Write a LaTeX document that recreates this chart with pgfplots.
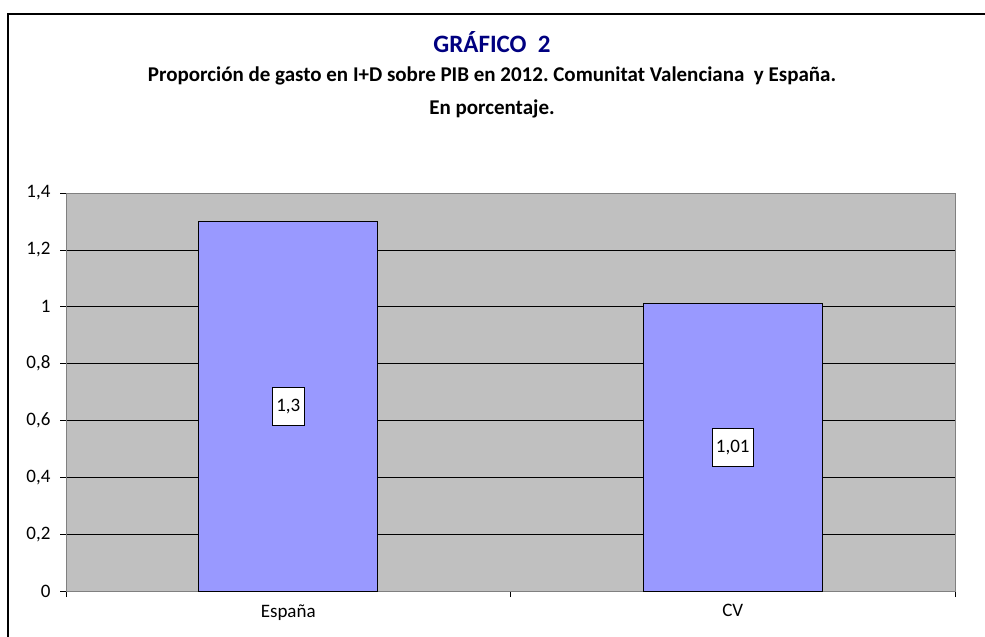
\documentclass[border=0pt]{standalone}
\usepackage{pgfplots}
\pgfplotsset{compat=1.18}
\usepackage{fontspec}
\setmainfont{Carlito}
\frenchspacing
\definecolor{plotbg}{HTML}{C0C0C0}
\definecolor{barcol}{HTML}{9999FF}
\definecolor{titleblue}{HTML}{000080}
\definecolor{framegray}{HTML}{808080}
\begin{document}
\begin{tikzpicture}[x=1bp,y=1bp]
\useasboundingbox (0,0) rectangle (985,-637);
\draw[line width=1.2bp] (8,-700) -- (8,-14) -- (1000,-14);
\node[font=\fontsize{25bp}{30bp}\selectfont\bfseries, text=titleblue] at (492,-42) {GRÁFICO\ \ 2};
\node[font=\fontsize{21bp}{25bp}\selectfont\bfseries] at (492,-76) {Proporción de gasto en I+D sobre PIB en 2012. Comunitat Valenciana\ \ y España.};
\node[font=\fontsize{21bp}{25bp}\selectfont\bfseries] at (492,-109) {En porcentaje.};
\begin{axis}[
  at={(66bp,-591bp)}, anchor=south west,
  scale only axis, width=889bp, height=398bp,
  xmin=-0.5, xmax=1.5, ymin=0, ymax=1.4,
  axis background/.style={fill=plotbg},
  axis line style={draw=framegray, line width=0.8bp},
  ytick={0,0.2,...,1.4},
  ymajorgrids, grid style={draw=black, line width=0.6bp},
  xtick={0,1}, xticklabels={España,CV},
  minor xtick={-0.5,0.5,1.5},
  xtick pos=bottom, ytick pos=left,
  tick align=outside,
  major tick length=6bp, minor tick length=6bp,
  x tick style={draw=none},
  minor x tick style={draw=black, line width=0.6bp},
  y tick style={draw=black, line width=0.6bp},
  tick label style={font=\fontsize{19bp}{22bp}\selectfont},
  /pgf/number format/assume math mode=true,
  /pgf/number format/use comma,
  /pgf/number format/fixed,
  yticklabel style={/pgf/number format/precision=1, xshift=-6bp},
  xticklabel style={yshift=-4bp},
]
\addplot[ybar, bar width=0.403, fill=barcol, draw=black, line width=0.8bp] coordinates {(0,1.3) (1,1.01)};
\addplot[draw=none, mark=none, point meta=explicit,
  nodes near coords={\pgfmathprintnumber[use comma,precision=2]{\pgfplotspointmeta}},
  nodes near coords align=center,
  every node near coord/.append style={fill=white, draw=black, line width=0.6bp,
    minimum height=38bp, inner xsep=4bp, font=\fontsize{19bp}{22bp}\selectfont}]
  coordinates {(0,0.65) [1.3] (1,0.505) [1.01]};
\end{axis}
\end{tikzpicture}
\end{document}
